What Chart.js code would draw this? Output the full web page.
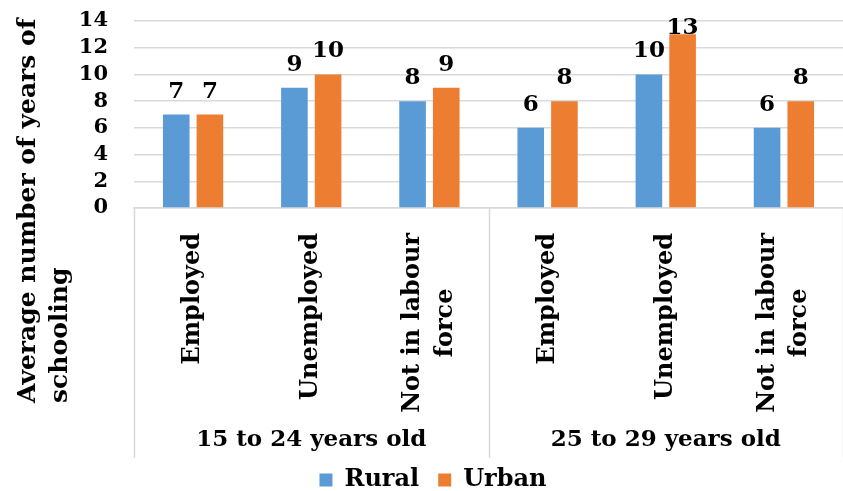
<!DOCTYPE html>
<html>
<head>
<meta charset="utf-8">
<script src="https://cdn.jsdelivr.net/npm/chart.js@4.4.1/dist/chart.umd.min.js"></script>
<style>
  html, body { margin: 0; padding: 0; background: #ffffff; }
  #wrap { width: 843px; height: 491px; }
</style>
</head>
<body>
<div id="wrap"><canvas id="chart" width="843" height="491"></canvas></div>
<script>
// Average years of schooling by labour-force status, rural vs urban
const categories = [
  'Employed', 'Unemployed', ['Not in labour', 'force'],
  'Employed', 'Unemployed', ['Not in labour', 'force']
];
const ageGroups = ['15 to 24 years old', '25 to 29 years old'];
const groupSize = 3;
const rural = [7, 9, 8, 6, 10, 6];
const urban = [7, 10, 9, 8, 13, 8];
const yMin = 0;
const yMax = 14;
const yStep = 2;
const yTitle = ['Average number of years of', 'schooling'];

const FONT = "'DejaVu Serif', 'Liberation Serif', serif";
const GRID = '#d9d9d9';
const CAT_FONT_SIZE = 24;

Chart.defaults.font.family = FONT;
Chart.defaults.font.weight = 'bold';
Chart.defaults.color = '#000000';

// Value labels, rotated category labels (lines centred on each other),
// age-group captions, group dividers and the y-axis title
const decorations = {
  id: 'decorations',
  afterDatasetsDraw(chart) {
    const ctx = chart.ctx;
    const area = chart.chartArea;
    ctx.save();
    ctx.font = "bold 23px " + FONT;
    ctx.fillStyle = '#000';
    ctx.textAlign = 'center';
    ctx.textBaseline = 'alphabetic';
    chart.data.datasets.forEach((ds, i) => {
      chart.getDatasetMeta(i).data.forEach((bar, j) => {
        const y = Math.max(bar.y - 17, area.top + 13);
        ctx.fillText(String(ds.data[j]), bar.x, y);
      });
    });
    ctx.restore();
  },
  afterDraw(chart) {
    const ctx = chart.ctx;
    const area = chart.chartArea;
    const xs = chart.scales.x;
    const dividerBottom = 458;

    // category labels, read bottom-to-top, block ending just under the axis
    ctx.save();
    ctx.fillStyle = '#000';
    ctx.font = "bold " + CAT_FONT_SIZE + "px " + FONT;
    ctx.textAlign = 'center';
    ctx.textBaseline = 'middle';
    const lineH = CAT_FONT_SIZE * 1.35;
    const labelTop = area.bottom + 25;
    categories.forEach((label, i) => {
      const lines = Array.isArray(label) ? label : [label];
      const w = Math.max(...lines.map(s => ctx.measureText(s).width));
      const cx = xs.getPixelForValue(i);
      const cy = labelTop + w / 2;
      lines.forEach((line, k) => {
        const x = cx + (k - (lines.length - 1) / 2) * lineH;
        ctx.save();
        ctx.translate(x, cy);
        ctx.rotate(-Math.PI / 2);
        ctx.fillText(line, 0, 0);
        ctx.restore();
      });
    });
    ctx.restore();

    const edges = [];
    for (let g = 0; g <= ageGroups.length; g++) {
      const idx = g * groupSize;
      if (idx === 0) edges.push(area.left);
      else if (idx >= categories.length) edges.push(area.right);
      else edges.push((xs.getPixelForValue(idx - 1) + xs.getPixelForValue(idx)) / 2);
    }
    ctx.save();
    ctx.strokeStyle = GRID;
    ctx.lineWidth = 1.5;
    edges.forEach(x => {
      ctx.beginPath();
      ctx.moveTo(Math.round(x) + 0.5, area.bottom);
      ctx.lineTo(Math.round(x) + 0.5, dividerBottom);
      ctx.stroke();
    });
    ctx.fillStyle = '#000';
    ctx.font = "bold 23px " + FONT;
    ctx.textAlign = 'center';
    ctx.textBaseline = 'middle';
    ageGroups.forEach((name, g) => {
      ctx.fillText(name, (edges[g] + edges[g + 1]) / 2, 440);
    });
    // y-axis title, rotated, two lines
    ctx.translate(0, 403);
    ctx.rotate(-Math.PI / 2);
    ctx.textAlign = 'left';
    ctx.font = "bold 25px " + FONT;
    ctx.fillText(yTitle[0], 0, 28);
    ctx.fillText(yTitle[1], 0, 60);
    ctx.restore();
  }
};

new Chart(document.getElementById('chart'), {
  type: 'bar',
  data: {
    labels: categories,
    datasets: [
      { label: 'Rural', data: rural, backgroundColor: '#5B9BD5', borderWidth: 0 },
      { label: 'Urban', data: urban, backgroundColor: '#ED7D31', borderWidth: 0 }
    ]
  },
  options: {
    responsive: false,
    devicePixelRatio: 1,
    animation: false,
    layout: { padding: { top: 21, right: -7, bottom: -11, left: 16 } },
    datasets: { bar: { categoryPercentage: 0.57, barPercentage: 0.79 } },
    plugins: {
      legend: {
        position: 'bottom',
        labels: {
          boxWidth: 13,
          boxHeight: 13,
          padding: 19,
          font: { size: 24, weight: 'bold', family: FONT },
          color: '#000'
        }
      },
      tooltip: { enabled: false }
    },
    scales: {
      x: {
        grid: { display: false, drawTicks: false },
        border: { display: true, color: GRID, width: 1.5 },
        ticks: { display: false },
        afterFit(scale) {
          scale.height = 241;
          scale.paddingLeft = 0;
          scale.paddingRight = 0;
        }
      },
      y: {
        min: yMin,
        max: yMax,
        grid: { color: GRID, lineWidth: 1.5, drawTicks: false },
        border: { display: false },
        ticks: {
          stepSize: yStep,
          autoSkip: false,
          padding: 26,
          font: { size: 21, weight: 'bold', family: FONT },
          color: '#000'
        },
        afterFit(scale) {
          scale.width = 118;
          scale.paddingTop = 0;
          scale.paddingBottom = 0;
        }
      }
    }
  },
  plugins: [decorations]
});
</script>
</body>
</html>
